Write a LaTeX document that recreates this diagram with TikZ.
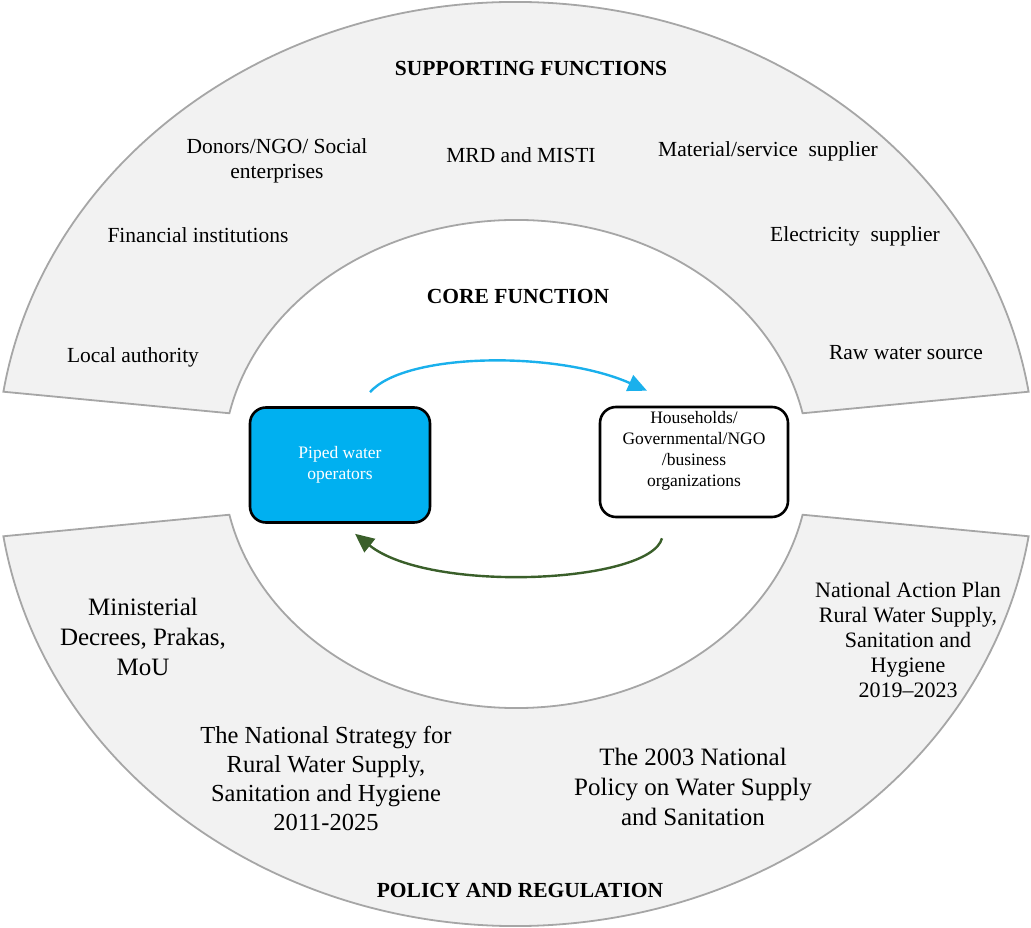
\documentclass[tikz,border=0pt]{standalone}
\usepackage{fontspec}
\setmainfont{Liberation Serif}
\usetikzlibrary{arrows.meta}
\definecolor{bandfill}{HTML}{F2F2F2}
\definecolor{bandline}{HTML}{A6A6A6}
\definecolor{opblue}{HTML}{00B0F0}
\definecolor{flowblue}{HTML}{1AB0EC}
\definecolor{flowgreen}{HTML}{3A5F2A}
\tikzset{
  band/.style={fill=bandfill, draw=bandline, line width=1.8pt},
  actor/.style={draw=black, line width=2.6pt, rounded corners=16pt, align=center,
    font=\fontsize{17.5}{21}\selectfont},
  lbl/.style={align=center, font=\fontsize{21.5}{25}\selectfont},
  biglbl/.style={align=center, font=\fontsize{25}{30}\selectfont},
  head/.style={font=\fontsize{21.5}{25}\selectfont\bfseries},
  flow/.style={line width=2.4pt, -{Triangle[length=19pt,width=17pt]}},
}
\begin{document}
\begin{tikzpicture}[x=1pt,y=1pt]
\useasboundingbox (0,0) rectangle (1031,927);

\begin{scope}[shift={(516,463)}]
\draw[band] (171:519 and 462) arc[start angle=171, end angle=9, x radius=519, y radius=462]
  -- (12:293 and 244) arc[start angle=12, end angle=168, x radius=293, y radius=244] -- cycle;
\draw[band] (189:519 and 462) arc[start angle=189, end angle=351, x radius=519, y radius=462]
  -- (348:293 and 244) arc[start angle=348, end angle=192, x radius=293, y radius=244] -- cycle;
\end{scope}

\node[head] (supf) at (531,859) {SUPPORTING FUNCTIONS};
\node[lbl] (donors) at (277,766) {Donors/NGO/ Social\\enterprises};
\node[lbl] (mrd) at (521,772) {MRD and MISTI};
\node[lbl] (matsup) at (768,776) {Material/service\ \ supplier};
\node[lbl] (fininst) at (198,692) {Financial institutions};
\node[lbl] (elecsup) at (855,691) {Electricity\ \ supplier};
\node[head] (coref) at (518,631) {CORE FUNCTION};
\node[lbl] (localauth) at (133,570) {Local authority};
\node[lbl] (rawwater) at (906,574) {Raw water source};

\node[actor, fill=opblue, text=white, minimum width=180, minimum height=115] (pwo) at (340,462)
  {Piped water\\operators};
\node[actor, fill=white, minimum width=188, minimum height=110, text depth=27pt] (hh) at (694,465)
  {Households/\\Governmental/NGO\\/business\\organizations};

\draw[flow, flowblue] ([shift={(30,14)}]pwo.north) .. controls +(35,40) and +(-90,40) .. ([shift={(-47,15)}]hh.north);
\draw[flow, flowgreen] ([shift={(-32,-20)}]hh.south) .. controls +(-12,-45) and +(75,-60) .. ([shift={(15,-10)}]pwo.south);

\node[biglbl] (decrees) at (143,290) {Ministerial\\Decrees, Prakas,\\MoU};
\node[lbl, font=\fontsize{22}{25}\selectfont] (actionplan) at (908,287)
  {National Action Plan\\Rural Water Supply,\\Sanitation and\\Hygiene\\2019--2023};
\node[biglbl, font=\fontsize{24.5}{29}\selectfont] (strategy) at (326,149)
  {The National Strategy for\\Rural Water Supply,\\Sanitation and Hygiene\\2011-2025};
\node[biglbl] (policy) at (693,140) {The 2003 National\\Policy on Water Supply\\and Sanitation};
\node[head] (polreg) at (520,37) {POLICY AND REGULATION};
\end{tikzpicture}
\end{document}
